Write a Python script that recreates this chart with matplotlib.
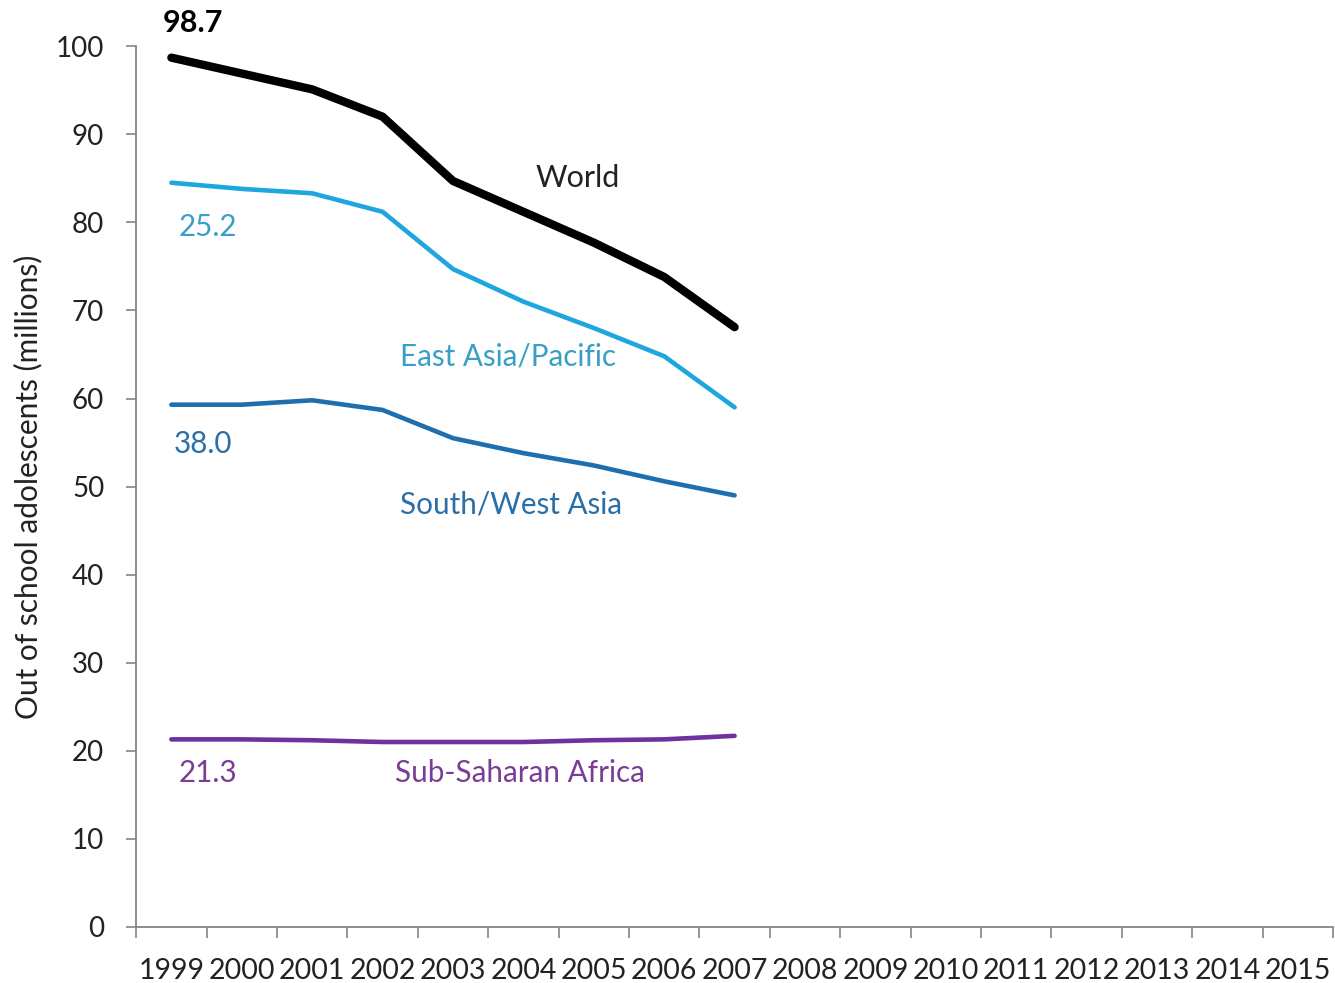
import numpy as np
import matplotlib.pyplot as plt

plt.rcParams['font.family'] = ['Lato', 'DejaVu Sans']

years = [str(y) for y in range(1999, 2016)]
data_years = years[:9]  # 1999-2007 have data

# out of school adolescents, millions
sub_saharan = [21.3, 21.3, 21.2, 21.0, 21.0, 21.0, 21.2, 21.3, 21.7]
south_west_asia = [38.0, 38.0, 38.6, 37.7, 34.5, 32.8, 31.2, 29.3, 27.3]
east_asia_pacific = [25.2, 24.5, 23.5, 22.5, 19.2, 17.2, 15.6, 14.2, 10.0]
world = [98.7, 96.9, 95.1, 92.0, 84.7, 81.2, 77.7, 73.8, 68.1]

# regional lines are stacked on top of each other
stacked = np.cumsum([sub_saharan, south_west_asia, east_asia_pacific], axis=0)

c_ssa = '#7030a0'
c_swa = '#1f6fae'
c_eap = '#1ea7de'

fig = plt.figure(figsize=(13.35, 9.83), dpi=100)
ax = fig.add_axes([0.102, 0.057, 0.8965, 0.896])

x = np.arange(len(data_years))
ax.plot(x, stacked[0], color=c_ssa, lw=3.3, solid_capstyle='round')
ax.plot(x, stacked[1], color=c_swa, lw=3.3, solid_capstyle='round')
ax.plot(x, stacked[2], color=c_eap, lw=3.3, solid_capstyle='round')
ax.plot(x, world, color='black', lw=6, solid_capstyle='round')

ax.set_xlim(-0.5, len(years) - 0.5)
ax.set_ylim(0, 100)
ax.set_yticks(range(0, 101, 10))
ax.set_xticks(range(len(years)))
ax.set_xticklabels(years)
ax.set_xticks(np.arange(-0.5, len(years)), minor=True)
ax.tick_params(axis='x', which='major', length=0, pad=22, labelsize=20.5, labelcolor='#222222')
ax.tick_params(axis='x', which='minor', length=8, color='#868686', width=1.2)
ax.tick_params(axis='y', length=7, color='#868686', width=1.2, pad=16, labelsize=20,
               labelcolor='#222222')

for side in ['top', 'right']:
    ax.spines[side].set_visible(False)
for side in ['left', 'bottom']:
    ax.spines[side].set_color('#868686')
    ax.spines[side].set_linewidth(1.3)

ax.set_ylabel('Out of school adolescents (millions)', fontsize=21.5, color='#222222', labelpad=10)

fs = 21.3
ax.text(0.3, 102.6, f'{world[0]:.1f}', ha='center', va='center', fontsize=22,
        fontweight='bold', color='black', clip_on=False)
ax.text(5.17, 85.0, 'World', ha='left', va='center', fontsize=22, color='#222222')
ax.text(0.1, 79.5, f'{east_asia_pacific[0]:.1f}', ha='left', va='center', fontsize=fs, color='#3a9fc6')
ax.text(3.25, 64.8, 'East Asia/Pacific', ha='left', va='center', fontsize=fs, color='#3a9fc6')
ax.text(0.03, 54.8, f'{south_west_asia[0]:.1f}', ha='left', va='center', fontsize=fs, color='#2a6fa6')
ax.text(3.25, 48.0, 'South/West Asia', ha='left', va='center', fontsize=fs, color='#2a6fa6')
ax.text(0.1, 17.5, f'{sub_saharan[0]:.1f}', ha='left', va='center', fontsize=fs, color='#7a3d96')
ax.text(3.18, 17.5, 'Sub-Saharan Africa', ha='left', va='center', fontsize=fs, color='#7a3d96')

fig.savefig('out.png', dpi=100)
